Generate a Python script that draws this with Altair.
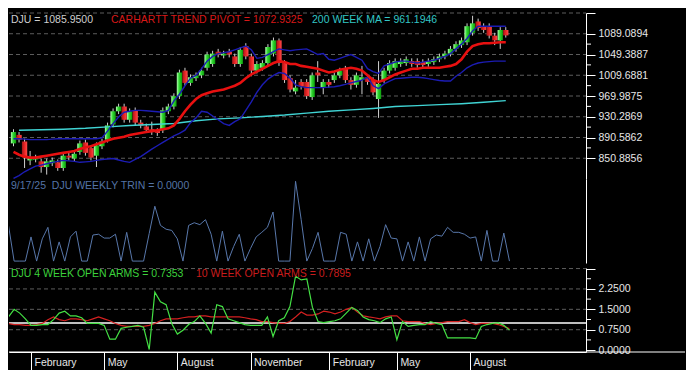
import altair as alt
import pandas as pd

FONT = "Liberation Sans"
W = 577
H_TOP, H_MID, H_BOT = 166, 84, 84

# ---------------- data ----------------
week_dates = pd.date_range("2024-01-05", periods=90, freq="7D").strftime("%Y-%m-%d").tolist()

opens = [879.28, 895.56, 882.90, 846.72, 848.53, 844.91, 834.06, 841.30, 843.10, 832.25,
         855.76, 850.34, 863.00, 881.09, 870.23, 855.76, 873.85, 886.51, 915.45, 940.77,
         949.82, 924.50, 942.58, 919.07, 911.83, 906.41, 902.79, 904.60, 940.77, 949.82,
         969.71, 1018.55, 995.03, 1004.08, 1009.50, 1023.97, 1031.21, 1054.72, 1047.49, 1054.72,
         1045.68, 1031.21, 1065.57, 1045.68, 1018.55, 1023.97, 1033.02, 1051.10, 1076.43, 1033.02,
         1004.08, 978.76, 996.84, 996.84, 967.90, 1014.93, 985.99, 996.84, 1000.46, 1009.50,
         1022.17, 1000.46, 991.42, 1000.46, 1005.89, 1000.46, 964.29, 1000.46, 1018.55, 1023.97,
         1031.21, 1033.02, 1036.63, 1036.63, 1034.83, 1031.21, 1034.83, 1040.25, 1045.68, 1051.10,
         1060.15, 1067.38, 1072.81, 1090.90, 1112.60, 1103.56, 1103.56, 1085.47, 1076.43, 1096.32]
closes = [900.98, 886.51, 852.15, 852.15, 852.15, 834.06, 844.91, 846.72, 832.25, 855.76,
          852.15, 859.38, 879.28, 861.19, 852.15, 875.66, 882.90, 913.64, 940.77, 949.82,
          924.50, 940.77, 919.07, 913.64, 904.60, 900.98, 899.17, 942.58, 949.82, 969.71,
          1014.93, 995.03, 1005.89, 1009.50, 1018.55, 1049.30, 1051.10, 1049.30, 1051.10, 1049.30,
          1031.21, 1058.34, 1045.68, 1018.55, 1031.21, 1033.02, 1063.77, 1076.43, 1033.02, 1000.46,
          982.37, 985.99, 987.80, 969.71, 1009.50, 1009.50, 996.84, 991.42, 1009.50, 1018.55,
          1000.46, 991.42, 1009.50, 1005.89, 996.84, 976.95, 993.23, 1018.55, 1033.02, 1036.63,
          1036.63, 1040.25, 1031.21, 1029.40, 1029.40, 1036.63, 1040.25, 1045.68, 1051.10, 1060.15,
          1069.19, 1076.43, 1103.56, 1108.98, 1099.94, 1096.32, 1085.47, 1076.43, 1096.32, 1085.95]
highs = [906.41, 900.98, 888.32, 864.81, 857.57, 850.34, 850.34, 852.15, 848.53, 861.19,
         861.19, 864.81, 884.70, 886.51, 875.66, 881.09, 888.32, 919.07, 946.20, 955.24,
         955.24, 946.20, 948.01, 924.50, 917.26, 920.88, 908.22, 948.01, 955.24, 975.14,
         1020.36, 1023.97, 1011.31, 1014.93, 1023.97, 1054.72, 1056.53, 1060.15, 1056.53, 1060.15,
         1051.10, 1063.77, 1071.00, 1051.10, 1036.63, 1038.44, 1069.19, 1081.85, 1080.04, 1038.44,
         1009.50, 1000.46, 1002.27, 1002.27, 1014.93, 1036.63, 1002.27, 1002.27, 1014.93, 1023.97,
         1027.59, 1005.89, 1014.93, 1027.59, 1011.31, 1005.89, 1036.63, 1023.97, 1038.44, 1042.06,
         1042.06, 1045.68, 1042.06, 1042.06, 1040.25, 1042.06, 1045.68, 1051.10, 1056.53, 1065.57,
         1074.62, 1081.85, 1108.98, 1123.45, 1118.03, 1108.98, 1108.98, 1090.90, 1101.75, 1101.75]
lows = [873.85, 881.09, 832.25, 837.68, 843.10, 823.21, 819.59, 835.87, 826.83, 826.83,
        846.72, 844.91, 857.57, 855.76, 846.72, 834.06, 868.43, 881.09, 910.03, 935.35,
        919.07, 919.07, 913.64, 908.22, 899.17, 895.56, 893.75, 899.17, 935.35, 944.39,
        964.29, 989.61, 989.61, 998.65, 1004.08, 1018.55, 1025.78, 1043.87, 1042.06, 1043.87,
        1025.78, 1025.78, 1040.25, 1007.70, 1013.12, 1018.55, 1027.59, 1045.68, 1027.59, 995.03,
        976.95, 973.33, 982.37, 964.29, 962.48, 996.84, 973.33, 985.99, 995.03, 1004.08,
        995.03, 982.37, 985.99, 973.33, 991.42, 971.52, 928.11, 995.03, 1013.12, 1018.55,
        1025.78, 1027.59, 1025.78, 1023.97, 1023.97, 1025.78, 1029.40, 1034.83, 1040.25, 1045.68,
        1054.72, 1061.96, 1067.38, 1085.47, 1094.51, 1090.90, 1080.04, 1067.38, 1060.15, 1081.85]

pivot = [863.00, 857.57, 854.00, 852.15, 852.15, 854.00, 855.76, 857.57, 859.38, 861.19,
         863.00, 864.81, 868.43, 872.00, 873.85, 877.50, 881.09, 884.70, 888.32, 890.10,
         891.90, 895.56, 897.40, 899.17, 900.98, 902.79, 904.60, 906.41, 908.22, 913.64,
         926.30, 940.77, 953.40, 964.29, 971.52, 975.14, 978.76, 980.60, 982.37, 985.99,
         989.61, 995.03, 1004.08, 1011.31, 1016.70, 1022.17, 1027.59, 1033.02, 1036.63, 1034.83,
         1031.21, 1031.21, 1027.59, 1025.78, 1023.97, 1022.17, 1018.55, 1014.93, 1016.70, 1020.36,
         1022.17, 1023.97, 1022.17, 1018.55, 1009.50, 1000.46, 996.84, 1000.46, 1005.89, 1011.31,
         1014.93, 1018.55, 1022.17, 1022.17, 1023.97, 1023.97, 1023.97, 1023.97, 1025.78, 1027.59,
         1031.21, 1040.25, 1054.72, 1065.57, 1069.19, 1071.00, 1071.00, 1071.90, 1072.80, 1072.9325]
upper = [888.32, 888.32, 887.40, 886.51, 886.51, 886.51, 886.51, 887.40, 888.32, 888.32,
         888.32, 888.32, 888.32, 888.32, 888.32, 888.32, 890.10, 902.80, 917.26, 929.90,
         939.00, 940.77, 942.58, 942.58, 941.70, 940.77, 939.90, 939.00, 942.58, 960.70,
         973.33, 989.61, 1004.08, 1009.50, 1022.17, 1036.63, 1045.68, 1051.10, 1052.90, 1054.72,
         1058.34, 1061.96, 1065.57, 1058.34, 1042.06, 1043.87, 1049.30, 1054.72, 1060.15, 1058.34,
         1056.53, 1058.34, 1059.20, 1060.15, 1054.72, 1049.30, 1051.10, 1040.25, 1038.44, 1042.06,
         1045.68, 1049.30, 1043.87, 1038.44, 1022.17, 1016.70, 1013.12, 1027.59, 1031.21, 1034.83,
         1036.63, 1036.63, 1034.83, 1033.02, 1034.83, 1036.63, 1038.44, 1042.06, 1045.68, 1051.10,
         1060.15, 1069.19, 1080.04, 1094.51, 1103.56, 1103.56, 1103.56, 1103.56, 1103.56, 1103.56]
lower = [812.30, 817.80, 825.00, 830.40, 835.87, 837.68, 840.40, 843.10, 844.91, 846.72,
         845.80, 844.91, 843.10, 844.00, 844.91, 846.72, 848.53, 849.40, 850.34, 847.60,
         844.91, 843.10, 848.53, 854.00, 861.19, 868.43, 874.80, 881.09, 887.40, 893.75,
         898.30, 904.60, 919.07, 928.11, 940.77, 939.00, 931.70, 924.50, 917.26, 913.64,
         920.88, 926.30, 942.58, 958.90, 977.00, 991.42, 1002.27, 1009.50, 1014.93, 1013.12,
         1004.08, 991.42, 987.80, 985.99, 985.99, 985.99, 985.99, 986.90, 987.80, 989.61,
         992.30, 995.03, 997.70, 1000.46, 1005.89, 989.61, 984.18, 993.23, 998.65, 1003.20,
         1004.08, 1005.00, 1005.89, 1005.89, 1005.00, 1003.20, 1001.40, 999.60, 998.65, 998.65,
         1007.70, 1014.93, 1023.97, 1029.40, 1033.02, 1034.83, 1035.70, 1036.63, 1036.63, 1036.63]

ma_weeks = [1, 5, 9, 13, 17, 21, 25, 29, 33, 37, 41, 45, 49, 53, 57, 61, 65, 69, 73, 77, 81, 85, 89]
ma_values = [904.60, 905.50, 906.41, 908.22, 911.00, 913.64, 915.45, 917.26, 922.70, 926.30,
             928.11, 930.80, 933.50, 937.20, 940.77, 943.50, 946.20, 949.82, 951.60, 953.40,
             955.24, 957.90, 961.1946]

trin = [0.93, 0, 0, 0, 0.63, 0, 0.58, 0.88, 0, 0.50,
        0, 0.63, 0.78, 0, 0, 0.68, 0.70, 0.60, 0.60, 0.70,
        0, 0.75, 0, 0, 0, 0.72, 1.43, 0.93, 0.83, 0.80,
        0.58, 0, 0.93, 1.00, 0.95, 1.08, 0.70, 0, 0.78, 0,
        0.38, 0.70, 0, 0.33, 0.63, 0.75, 0.88, 1.28, 0, 0,
        0, 2.08, 1.08, 0, 0.33, 0.75, 0, 0, 0, 0.75,
        0.70, 0, 0.50, 0, 0.58, 0, 0.38, 0.95, 0.60, 0.58,
        0, 0.50, 0, 0.63, 0, 0.58, 0.68, 0.65, 0.88, 0.75,
        0.75, 0.70, 0.60, 0.63, 0, 0.80, 0, 0, 0.73, 0.0]

arms4 = [1.22, 1.50, 1.36, 1.15, 0.91, 0.91, 0.94, 0.94, 1.12, 1.36,
         1.43, 1.26, 1.26, 1.19, 0.98, 0.98, 0.98, 0.91, 0.40, 0.40,
         0.80, 0.84, 0.87, 0.91, 0.84, 0.02, 2.13, 1.78, 1.67, 0.98,
         0.59, 0.73, 0.94, 1.05, 1.26, 0.98, 0.63, 1.67, 1.60, 1.15,
         1.08, 1.01, 0.94, 0.91, 0.91, 0.91, 1.22, 0.50, 1.08, 1.19,
         1.60, 2.72, 2.58, 2.62, 1.57, 1.05, 1.01, 1.05, 1.08, 1.15,
         1.36, 1.57, 1.46, 1.22, 1.12, 1.08, 1.01, 1.15, 1.22, 0.38,
         1.05, 0.87, 0.91, 0.94, 0.94, 1.05, 0.98, 0.94, 0.45, 0.45,
         0.45, 0.45, 0.45, 0.42, 0.87, 0.94, 0.98, 1.01, 0.91, 0.7353]
arms10 = [0.98, 0.94, 0.94, 0.91, 0.91, 0.94, 0.98, 1.12, 1.22, 1.12,
          1.08, 1.15, 1.15, 1.12, 1.08, 1.15, 1.22, 1.15, 1.08, 0.98,
          0.91, 0.87, 0.87, 0.87, 0.87, 0.91, 0.98, 1.08, 1.15, 1.15,
          1.15, 1.19, 1.22, 1.22, 1.26, 1.26, 1.22, 1.22, 1.22, 1.22,
          1.22, 1.22, 1.19, 1.15, 1.12, 1.05, 1.05, 1.01, 0.98, 0.98,
          1.05, 1.22, 1.40, 1.29, 1.29, 1.33, 1.43, 1.40, 1.33, 1.40,
          1.50, 1.57, 1.40, 1.26, 1.22, 1.19, 1.15, 1.22, 1.26, 1.26,
          1.08, 1.05, 1.05, 1.05, 0.98, 0.94, 0.98, 1.01, 1.05, 1.05,
          1.05, 1.12, 1.01, 0.94, 0.98, 0.98, 0.98, 0.94, 0.87, 0.7895]

month_weeks = [4, 17, 30, 43, 57, 69, 82]
month_names = ["February", "May", "August", "November", "February", "May", "August"]

price_major = [850.8856, 890.5862, 930.2869, 969.9875, 1009.6881, 1049.3887, 1089.0894, 1128.7900]
price_minor = [870.7359, 910.4366, 950.1372, 989.8378, 1029.5384, 1069.2391]
arms_major = [0.0, 0.75, 1.5, 2.25, 3.0]
arms_minor = [0.375, 1.125, 1.875, 2.625]
arms_grid = [0.75, 1.5, 2.25, 3.0]
arms_ref = [1.0]

# ---------------- frames ----------------
n = len(closes)
df = pd.DataFrame({
    "week": list(range(n)), "date": week_dates,
    "open": opens, "high": highs, "low": lows, "close": closes,
    "pivot": pivot, "upper": upper, "lower": lower,
    "trin": trin, "arms4": arms4, "arms10": arms10,
})
ma_df = pd.DataFrame({"week": ma_weeks, "ma": ma_values})

label_dju = f"DJU = {closes[-1]:.4f}"
label_pivot = f"CARHARTT TREND PIVOT = {pivot[-1]:.4f}"
label_ma = f"200 WEEK MA = {ma_values[-1]:.4f}"
label_trin = f"9/17/25\u00a0 DJU WEEKLY TRIN = {trin[-1]:.4f}"
label_a4 = f"DJU 4 WEEK OPEN ARMS = {arms4[-1]:.4f}"
label_a10 = f"10 WEEK OPEN ARMS = {arms10[-1]:.4f}"

# ---------------- helpers ----------------
x_scale = alt.Scale(domain=[0.09, 102.6], nice=False, zero=False)
X = alt.X("week:Q", scale=x_scale, axis=None)

def label(text, x, y, color):
    return alt.Chart(pd.DataFrame({"t": [text]})).mark_text(
        align="left", baseline="middle", font=FONT, fontSize=10.5, color=color
    ).encode(x=alt.value(x), y=alt.value(y), text="t:N")

def right_axis(values, hide_expr):
    return alt.Axis(orient="right", values=values, format=".4f",
                    labelExpr=f"{hide_expr} ? datum.label : ''",
                    tickSize=9, tickColor="white", tickWidth=1,
                    domainColor="white", domainWidth=1,
                    labelColor="#e6e6e6", labelFont=FONT, labelFontSize=10.5,
                    labelPadding=3, grid=False, title=None,
                    labelFlush=False, labelOverlap=False)

GRID = dict(color="#5c5c5c", strokeWidth=1, strokeDash=[4, 3])

# ---------------- top panel ----------------
ys = alt.Scale(domain=[811.185, 1128.79], nice=False, zero=False)
ax_top = right_axis(price_major, "datum.value < 1100")

def YT(f):
    return alt.Y(f, scale=ys, axis=ax_top, title=None)

grid_top = alt.Chart(pd.DataFrame({"v": price_major})).mark_rule(**GRID).encode(
    y=YT("v:Q"), x=alt.value(0), x2=alt.value(W))
minor_top = alt.Chart(pd.DataFrame({"v": price_minor})).mark_rule(color="white").encode(
    y=YT("v:Q"), x=alt.value(W), x2=alt.value(W + 5))

green_grad = alt.Gradient(gradient="linear", x1=0, x2=1, y1=0, y2=0, stops=[
    alt.GradientStop(color="#b4ffb4", offset=0),
    alt.GradientStop(color="#2ed62e", offset=0.45),
    alt.GradientStop(color="#0c9c0c", offset=1)])
red_grad = alt.Gradient(gradient="linear", x1=0, x2=1, y1=0, y2=0, stops=[
    alt.GradientStop(color="#a01818", offset=0),
    alt.GradientStop(color="#e82424", offset=0.5),
    alt.GradientStop(color="#ff4a4a", offset=1)])

base = alt.Chart(df)
wicks = base.mark_rule(color="#d0d0d0", strokeWidth=1, clip=True).encode(
    x=X, y=YT("low:Q"), y2="high:Q")
up = base.transform_filter("datum.close >= datum.open").mark_bar(
    size=5.3, color=green_grad, clip=True).encode(x=X, y=YT("open:Q"), y2="close:Q")
down = base.transform_filter("datum.close < datum.open").mark_bar(
    size=5.3, color=red_grad, clip=True).encode(x=X, y=YT("open:Q"), y2="close:Q")
ma_line = alt.Chart(ma_df).mark_line(color="#40d4d4", strokeWidth=1.4, clip=True).encode(
    x=X, y=YT("ma:Q"))
up_line = base.mark_line(color="#1c1cb4", strokeWidth=1.4, clip=True).encode(x=X, y=YT("upper:Q"))
lo_line = base.mark_line(color="#1c1cb4", strokeWidth=1.4, clip=True).encode(x=X, y=YT("lower:Q"))
pv_line = base.mark_line(color="#e81010", strokeWidth=2.6, clip=True).encode(x=X, y=YT("pivot:Q"))

top = alt.layer(
    grid_top, minor_top, wicks, up, down, ma_line, up_line, lo_line, pv_line,
    label(label_dju, 2, 7, "#cfcfcf"),
    label(label_pivot, 102, 7, "#d81818"),
    label(label_ma, 303, 7, "#33c6c6"),
).properties(width=W, height=H_TOP)

# ---------------- middle panel ----------------
y_mid = alt.Scale(domain=[-0.05, 2.14], nice=False, zero=False)
ax_mid = alt.Axis(orient="right", ticks=False, labels=False, domainColor="white",
                  domainWidth=1, grid=False, title=None)
trin_line = base.mark_line(color="#5877aa", strokeWidth=1, clip=True).encode(
    x=X, y=alt.Y("trin:Q", scale=y_mid, axis=ax_mid, title=None))
mid = alt.layer(trin_line, label(label_trin, 2, 7, "#5474a6")).properties(width=W, height=H_MID)

# ---------------- bottom panel ----------------
y_bot = alt.Scale(domain=[-0.07, 3.02], nice=False, zero=False)
ax_bot = right_axis(arms_major, "datum.value < 2.9")
month_expr = "".join(f"datum.value == {w} ? '{m}' : " for w, m in zip(month_weeks, month_names)) + "''"
ax_x = alt.Axis(values=month_weeks, labelExpr=month_expr, tickSize=20, tickColor="white",
                tickWidth=1, domainColor="white", domainWidth=1, labelColor="#e6e6e6",
                labelFont=FONT, labelFontSize=10.5, labelAlign="left", labelBaseline="middle",
                labelPadding=-10, labelOffset=3, labelFlush=False, labelOverlap=False,
                grid=False, title=None)
XB = alt.X("week:Q", scale=x_scale, axis=ax_x, title=None)

def YB(f):
    return alt.Y(f, scale=y_bot, axis=ax_bot, title=None)

grid_bot = alt.Chart(pd.DataFrame({"v": arms_grid})).mark_rule(**GRID).encode(
    y=YB("v:Q"), x=alt.value(0), x2=alt.value(W))
minor_bot = alt.Chart(pd.DataFrame({"v": arms_minor})).mark_rule(color="white").encode(
    y=YB("v:Q"), x=alt.value(W), x2=alt.value(W + 5))
ref_bot = alt.Chart(pd.DataFrame({"v": arms_ref})).mark_rule(color="white", strokeWidth=1.5).encode(
    y=YB("v:Q"), x=alt.value(0), x2=alt.value(W))
a10_line = base.mark_line(color="#d42020", strokeWidth=1.2, clip=True).encode(x=XB, y=YB("arms10:Q"))
a4_line = base.mark_line(color="#44e044", strokeWidth=1.2, clip=True).encode(x=XB, y=YB("arms4:Q"))
base_rule = alt.Chart(pd.DataFrame({"v": [0]})).mark_rule(color="white", strokeWidth=1).encode(
    x=alt.value(0), x2=alt.value(676), y=alt.value(H_BOT))

bot = alt.layer(
    grid_bot, minor_bot, ref_bot, a10_line, a4_line,
    label(label_a4, 2, 6, "#3cd23c"),
    label(label_a10, 187, 6, "#c81c1c"),
    base_rule,
).properties(width=W, height=H_BOT)

chart = alt.vconcat(top, mid, bot, spacing=0).properties(
    padding=0, background="#000000"
).configure_view(stroke=None)

chart.save("out.html", embed_options={"renderer": "svg", "actions": False})
